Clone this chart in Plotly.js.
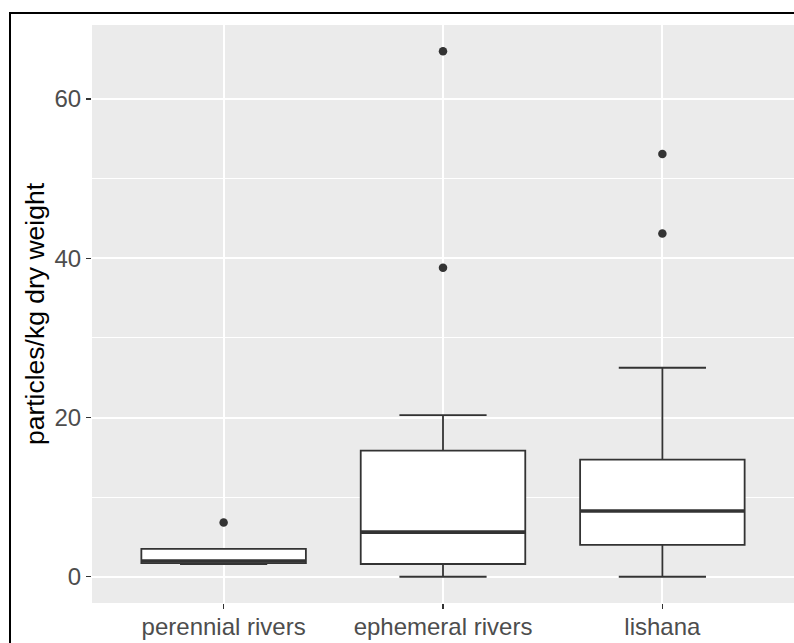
<!DOCTYPE html>
<html>
<head>
<meta charset="utf-8">
<script src="https://cdn.plot.ly/plotly-3.0.1.min.js"></script>
<style>
  html, body { margin: 0; padding: 0; background: #ffffff; }
  #wrap { position: relative; width: 794px; height: 643px; overflow: hidden; }
  #chart { position: absolute; left: 0; top: 0; width: 794px; height: 643px; }
  #frame { position: absolute; left: 9px; top: 12px; width: 900px; height: 800px;
           border-left: 2px solid #000; border-top: 2px solid #000; pointer-events: none; }
</style>
</head>
<body>
<div id="wrap">
  <div id="chart"></div>
  <div id="frame"></div>
</div>
<script>
// ---- data ----
const categories = ["perennial rivers", "ephemeral rivers", "lishana"];
const lowerWhisker = [1.6, 0.0, 0.0];
const q1Values     = [1.72, 1.6, 4.0];
const medianValues = [1.97, 5.6, 8.26];
const q3Values     = [3.5, 15.85, 14.7];
const upperWhisker = [3.5, 20.3, 26.25];
const outlierGroup = [0, 1, 1, 2, 2];
const outlierValues = [6.8, 66.0, 38.8, 53.1, 43.1];
const yTickValues = [0, 20, 40, 60];

// ---- styling constants ----
const boxWidth = 0.75;
const ink = "#333333";
const idx = categories.map((c, i) => i);

// median lines (thicker than the box outline, as in ggplot)
const medX = [], medY = [];
idx.forEach(i => {
  medX.push(i - boxWidth / 2, i + boxWidth / 2, null);
  medY.push(medianValues[i], medianValues[i], null);
});

const traces = [
  {
    type: "box",
    x: idx,
    q1: q1Values,
    median: medianValues,
    q3: q3Values,
    lowerfence: lowerWhisker,
    upperfence: upperWhisker,
    width: boxWidth,
    whiskerwidth: 0.53,
    fillcolor: "#ffffff",
    line: { color: ink, width: 1.8 },
    boxpoints: false,
    hoverinfo: "skip"
  },
  {
    type: "scatter",
    mode: "lines",
    x: medX,
    y: medY,
    line: { color: ink, width: 3.6 },
    hoverinfo: "skip"
  },
  {
    type: "scatter",
    mode: "markers",
    x: outlierGroup,
    y: outlierValues,
    marker: { color: ink, size: 8.5, line: { width: 0 } },
    hoverinfo: "skip"
  }
];

const layout = {
  width: 794,
  height: 643,
  margin: { l: 92, r: 0, t: 25, b: 40, pad: 0 },
  paper_bgcolor: "#ffffff",
  plot_bgcolor: "#EBEBEB",
  showlegend: false,
  hovermode: false,
  font: { family: "'Liberation Sans', Arial, sans-serif", color: "#4D4D4D" },
  xaxis: {
    type: "linear",
    range: [-0.6, 2.6],
    tickmode: "array",
    tickvals: idx,
    ticktext: categories,
    showgrid: true,
    gridcolor: "#ffffff",
    gridwidth: 2,
    zeroline: false,
    showline: false,
    ticks: "outside",
    ticklen: 5,
    tickwidth: 1.4,
    tickcolor: ink,
    ticklabelstandoff: -3,
    tickfont: { size: 24, color: "#4D4D4D" },
    automargin: false,
    fixedrange: true
  },
  yaxis: {
    range: [-3.3, 69.3],
    tickmode: "array",
    tickvals: yTickValues,
    showgrid: true,
    gridcolor: "#ffffff",
    gridwidth: 2,
    minor: { dtick: 10, tick0: 0, showgrid: true, gridcolor: "#ffffff", gridwidth: 1, ticks: "" },
    zeroline: false,
    showline: false,
    ticks: "outside",
    ticklen: 5,
    tickwidth: 1.4,
    tickcolor: ink,
    tickfont: { size: 24, color: "#4D4D4D" },
    title: { text: "particles/kg dry weight", font: { size: 26.5, color: "#000000" }, standoff: 2 },
    automargin: false,
    fixedrange: true
  }
};

Plotly.newPlot("chart", traces, layout, { displayModeBar: false, staticPlot: true });
</script>
</body>
</html>
